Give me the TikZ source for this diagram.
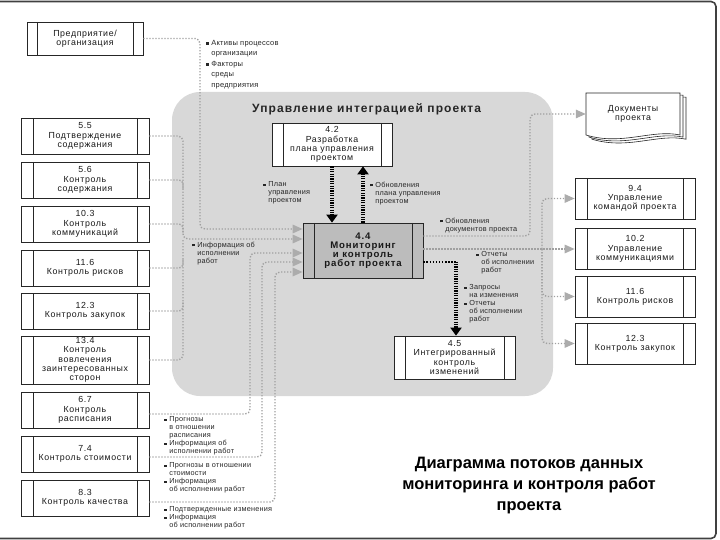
\documentclass[tikz,border=0pt]{standalone}
\usepackage{fontspec}
\setmainfont{Liberation Sans}
\newfontfamily\boxfam[LetterSpace=7]{Liberation Sans}
\newfontfamily\lblfam[LetterSpace=3]{Liberation Sans}
\newfontfamily\titlefam[LetterSpace=9]{Liberation Sans}
\usetikzlibrary{arrows.meta,calc}
\definecolor{regionfill}{RGB}{216,216,216}
\definecolor{boxgray}{RGB}{188,188,188}
\definecolor{flowgray}{RGB}{160,160,160}
\definecolor{tipgray}{RGB}{172,172,172}
\newcommand\bul{\rule[0.8pt]{2.4pt}{2.4pt}\hspace{2.8pt}}
\newcommand\ind{\hspace*{5.2pt}}
\tikzset{
  proc/.style={draw=black!85, line width=0.7pt, fill=white, inner sep=0pt, align=center,
    text=black!90, font=\boxfam\fontsize{8.8}{9.3}\selectfont,
    path picture={\draw[black!85, line width=0.7pt]
      ([xshift=#1]path picture bounding box.north west) -- ([xshift=#1]path picture bounding box.south west)
      ([xshift=-#1]path picture bounding box.north east) -- ([xshift=-#1]path picture bounding box.south east);}},
  proc/.default=12pt,
  lbox/.style={proc, minimum width=128pt, minimum height=36pt},
  rbox/.style={proc, minimum width=120pt, minimum height=41pt},
  flow/.style={draw=flowgray, line width=1.4pt, dash pattern=on 1.3pt off 1.7pt},
  gtip/.tip={Triangle[length=10pt,width=8.5pt,fill=tipgray,color=tipgray]},
  btip/.tip={Triangle[length=8pt,width=11pt,fill=black,color=black]},
  bthick/.style={draw=black, line width=3.4pt, dash pattern=on 1.3pt off 1.1pt},
  bthin/.style={draw=black, line width=2pt, dash pattern=on 1.5pt off 1.6pt},
  lbl/.style={anchor=north west, inner sep=0pt, align=left, text=black!85,
    font=\lblfam\fontsize{7.3}{8}\selectfont},
  frame/.style={draw=black!75, line width=1.6pt, rounded corners=5pt}
}
\begin{document}
\begin{tikzpicture}[x=1pt,y=-1pt]
\useasboundingbox (0,0) rectangle (720,540);
\draw[frame] (-3,1.5) -- (716,1.5) -- (716,538.5) -- (-3,538.5);
% integration region
\fill[regionfill, rounded corners=28pt] (172,92) rectangle (553,396);
\node[anchor=west, inner sep=0pt, font=\titlefam\bfseries\fontsize{12}{12}\selectfont, text=black!85] (title) at (252,109) {Управление интеграцией проекта};

% left column
\node[proc=10pt, minimum width=116pt, minimum height=33pt] (ent) at (85,38.5) {Предприятие/\\организация};
\node[lbox] (b55) at (85,136) {5.5\\Подтверждение\\содержания};
\node[lbox] (b56) at (85,180) {5.6\\Контроль\\содержания};
\node[lbox] (b103) at (85,224) {10.3\\Контроль\\коммуникаций};
\node[lbox] (b116) at (85,268) {11.6\\Контроль рисков};
\node[lbox] (b123) at (85,311) {12.3\\Контроль закупок};
\node[lbox, minimum height=48pt] (b134) at (85,360) {13.4\\Контроль\\вовлечения\\заинтересованных\\сторон};
\node[lbox] (b67) at (85,410) {6.7\\Контроль\\расписания};
\node[lbox] (b74) at (85,454) {7.4\\Контроль стоимости};
\node[lbox] (b83) at (85,498) {8.3\\Контроль качества};

% centre
\node[proc=11pt, minimum width=120pt, minimum height=43pt] (p42) at (332,144.5) {4.2\\Разработка\\плана управления\\проектом};
\node[proc=11pt, minimum width=120pt, minimum height=55pt, fill=boxgray,
  font=\titlefam\bfseries\fontsize{9.6}{9.2}\selectfont] (e44) at (363,250.5) {4.4\\Мониторинг\\и контроль\\работ проекта};
\node[proc=11pt, minimum width=121pt, minimum height=43pt] (i45) at (454.5,357.5) {4.5\\Интегрированный\\контроль\\изменений};

% right column
\node[rbox] (r94) at (635,198.5) {9.4\\Управление\\командой проекта};
\node[rbox] (r102) at (635,249) {10.2\\Управление\\коммуникациями};
\node[rbox] (r116) at (635,296.5) {11.6\\Контроль рисков};
\node[rbox] (r123) at (635,343.5) {12.3\\Контроль закупок};

% documents stack
\foreach \d in {6,3,0}{
  \draw[black!85, line width=0.6pt, fill=white]
    (586+\d,93+\d*0.7) -- (680+\d,93+\d*0.7) -- (680+\d,135+\d*0.7)
    .. controls (652+\d,129+\d*0.7) and (622+\d,146+\d*0.7) .. (586+\d,135+\d*0.7) -- cycle;
}
\node[inner sep=0pt, minimum width=94pt, minimum height=42pt, align=center, text=black!90,
  font=\boxfam\fontsize{8.8}{9.3}\selectfont] (docs) at (633,114) {Документы\\проекта};

% inputs to 4.4
\draw[flow, rounded corners=5pt, -{gtip}] (ent.east) -| (200,229) -- ([yshift=21.5pt]e44.west);
\draw[flow, rounded corners=5pt, -{gtip}] (b55.east) -| (183,239) -- ([yshift=11.5pt]e44.west);
\draw[flow, rounded corners=5pt] (b134.east) -| (183,239);
\draw[flow, rounded corners=4pt] (b56.east) -| (183,189);
\draw[flow, rounded corners=4pt] (b103.east) -| (183,233);
\draw[flow, rounded corners=4pt] (b116.east) -| (183,259);
\draw[flow, rounded corners=4pt] (b123.east) -| (183,302);
\draw[flow, rounded corners=5pt, -{gtip}] ([yshift=-4pt]b67.east) -| (250,253) -- ([yshift=-2.5pt]e44.west);
\draw[flow, rounded corners=5pt, -{gtip}] ([yshift=-3pt]b74.east) -| (262,262) -- ([yshift=-11.5pt]e44.west);
\draw[flow, rounded corners=5pt, -{gtip}] ([yshift=-4pt]b83.east) -| (275,272) -- ([yshift=-21.5pt]e44.west);

% outputs of 4.4
\draw[flow, rounded corners=5pt, -{gtip}] ([yshift=14.5pt]e44.east) -| (530,114) -- (docs.west);
\draw[flow, -{gtip}] ([yshift=1.5pt]e44.east) -- (r102.west);
\coordinate (rb) at (542,249);
\draw[flow, rounded corners=5pt, -{gtip}] (rb) |- (r94.west);
\draw[flow, rounded corners=5pt, -{gtip}] (rb) |- (r116.west);
\draw[flow, rounded corners=5pt, -{gtip}] (rb) |- (r123.west);

% black flows
\draw[bthick, -{btip}] (p42.south) -- (p42.south |- e44.north);
\draw[bthick, -{btip}] (e44.north) -- (e44.north |- p42.south);
\coordinate (bk) at (456,261.5);
\draw[bthin] ([yshift=-11pt]e44.east) -- (bk);
\draw[bthick, -{btip}] (bk) -- (bk |- i45.north);

% labels
\node[lbl, font=\lblfam\fontsize{7.5}{10.5}\selectfont] (l1) at (206,40) {\bul Активы процессов\\\ind организации\\\bul Факторы\\\ind среды\\\ind предприятия};
\node[lbl] (l2) at (192,241.5) {\bul Информация об\\\ind исполнении\\\ind работ};
\node[lbl] (l3) at (263,181.5) {\bul План\\\ind управления\\\ind проектом};
\node[lbl] (l4) at (370,181.5) {\bul Обновления\\\ind плана управления\\\ind проектом};
\node[lbl] (l5) at (440,217.5) {\bul Обновления\\\ind документов проекта};
\node[lbl] (l6) at (476,251.5) {\bul Отчеты\\\ind об исполнении\\\ind работ};
\node[lbl] (l7) at (464,284.5) {\bul Запросы\\\ind на изменения\\\bul Отчеты\\\ind об исполнении\\\ind работ};
\node[lbl] (l8) at (164,416.5) {\bul Прогнозы\\\ind в отношении\\\ind расписания\\\bul Информация об\\\ind исполнении работ};
\node[lbl] (l9) at (164,462.5) {\bul Прогнозы в отношении\\\ind стоимости\\\bul Информация\\\ind об исполнении работ};
\node[lbl] (l10) at (164,506.5) {\bul Подтвержденные изменения\\\bul Информация\\\ind об исполнении работ};

% caption
\node[align=center, inner sep=0pt, font=\bfseries\fontsize{16.5}{21}\selectfont] (cap) at (529,486) {Диаграмма потоков данных\\мониторинга и контроля работ\\проекта};
\end{tikzpicture}
\end{document}
